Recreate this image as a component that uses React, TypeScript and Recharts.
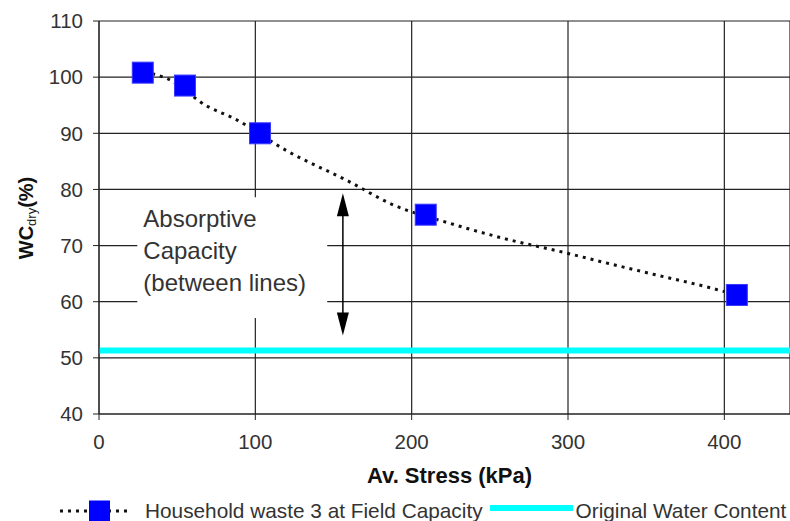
import React from "react";
import {
  CartesianGrid,
  ComposedChart,
  Legend,
  Line,
  ReferenceArea,
  ReferenceLine,
  Scatter,
  XAxis,
  YAxis,
} from "recharts";

// measured points: Household waste 3 at Field Capacity
const stressKpa = [28, 55, 103, 209, 408];
const wcDry = [100.8, 98.5, 90.0, 75.5, 61.2];

// dotted trend line
const trendStress = [29, 43, 70, 86, 120, 160, 187, 224, 260, 297, 326, 356, 392, 400];
const trendWc = [100.9, 99.8, 94.7, 92.7, 86.9, 81.4, 77.4, 74.0, 71.2, 68.8, 66.8, 64.8, 62.4, 61.8];

const originalWaterContent = 51.3;

const xTicks = [0, 100, 200, 300, 400];
const yTicks = [40, 50, 60, 70, 80, 90, 100, 110];

// absorptive capacity annotation
const annotationLines = ["Absorptive", "Capacity", "(between lines)"];
const boxStress = [24.5, 146];
const boxWc = [57.1, 78.6];
const arrowStress = 156;
const arrowWc = [79.3, 54.0];

const legendLabels = ["Household waste 3 at Field Capacity", "Original Water Content"];

const FONT = "'Liberation Sans', Arial, Helvetica, sans-serif";
const TEXT = "#333333";

const measured = stressKpa.map((x, i) => ({ x, y: wcDry[i] }));
const trend = trendStress.map((x, i) => ({ x, y: trendWc[i] }));

const SquareDot = (props: any) => {
  const { cx, cy } = props;
  if (cx == null || cy == null) return null;
  return <rect x={cx - 10.5} y={cy - 10.5} width={21} height={21} fill="#0000FF" stroke="#3a3aff" strokeWidth={1} />;
};

const YTitle = () => (
  <text
    x={26}
    y={218}
    transform="rotate(-90, 26, 218)"
    textAnchor="middle"
    dominantBaseline="central"
    fontFamily={FONT}
    fontWeight="bold"
    fontSize={20}
    fill="#111"
  >
    WC
    <tspan fontSize={13} fontWeight="normal" dy={5}>
      dry
    </tspan>
    <tspan dy={-5}>(%)</tspan>
  </text>
);

const XTitle = (props: any) => {
  const { viewBox } = props;
  if (!viewBox) return null;
  return (
    <text
      x={viewBox.x + viewBox.width / 2 + 5}
      y={viewBox.y + 69}
      textAnchor="middle"
      fontFamily={FONT}
      fontWeight="bold"
      fontSize={22}
      fill="#111"
    >
      Av. Stress (kPa)
    </text>
  );
};

const BoxText = (props: any) => {
  const { viewBox } = props;
  if (!viewBox) return null;
  return (
    <text fontFamily={FONT} fontSize={24} fill={TEXT} dominantBaseline="central">
      {annotationLines.map((line, i) => (
        <tspan key={line} x={viewBox.x + 6} y={viewBox.y + 21 + i * 32}>
          {line}
        </tspan>
      ))}
    </text>
  );
};

const DoubleArrow = (props: any) => {
  const { x1, y1, x2, y2 } = props;
  if (x1 == null) return null;
  const top = Math.min(y1, y2);
  const bottom = Math.max(y1, y2);
  const x = x1;
  return (
    <g>
      <line x1={x} y1={top + 20} x2={x} y2={bottom - 20} stroke="#000" strokeWidth={1.5} />
      <polygon points={`${x},${top} ${x - 6},${top + 23} ${x + 6},${top + 23}`} fill="#000" />
      <polygon points={`${x},${bottom} ${x - 6},${bottom - 23} ${x + 6},${bottom - 23}`} fill="#000" />
    </g>
  );
};

const LegendContent = () => (
  <div
    style={{
      display: "flex",
      alignItems: "center",
      paddingLeft: 60,
      fontFamily: FONT,
      fontSize: 20.8,
      color: TEXT,
      whiteSpace: "nowrap",
      height: 24,
    }}
  >
    <svg width={72} height={24}>
      <line x1={0} y1={12} x2={72} y2={12} stroke="#111" strokeWidth={3} strokeDasharray="3 5" />
      <rect x={29} y={1.5} width={21} height={21} fill="#0000FF" />
    </svg>
    <span style={{ marginLeft: 13 }}>{legendLabels[0]}</span>
    <svg width={83} height={24} style={{ marginLeft: 7 }}>
      <line x1={0} y1={9} x2={83} y2={9} stroke="#00FFFF" strokeWidth={6} />
    </svg>
    <span style={{ marginLeft: 3 }}>{legendLabels[1]}</span>
  </div>
);

export default function App() {
  return (
    <div style={{ position: "absolute", left: 0, top: 0, background: "#fff" }}>
      <ComposedChart width={790} height={521} margin={{ top: 21, right: 0, left: 0, bottom: 0 }}>
        <CartesianGrid stroke="#222" strokeWidth={1.2} />
        <XAxis
          type="number"
          dataKey="x"
          domain={[0, 442]}
          ticks={xTicks}
          allowDataOverflow
          height={107}
          stroke="#222"
          tickSize={6}
          tickMargin={14}
          tick={{ fontSize: 20.5, fill: TEXT, fontFamily: FONT }}
          label={<XTitle />}
        />
        <YAxis
          type="number"
          dataKey="y"
          domain={[40, 110]}
          ticks={yTicks}
          width={99}
          stroke="#222"
          tickSize={6}
          tickMargin={10}
          tick={{ fontSize: 20.5, fill: TEXT, fontFamily: FONT }}
          label={<YTitle />}
        />
        <ReferenceArea
          x1={boxStress[0]}
          x2={boxStress[1]}
          y1={boxWc[0]}
          y2={boxWc[1]}
          fill="#fff"
          fillOpacity={1}
          stroke="none"
          ifOverflow="visible"
          label={<BoxText />}
        />
        <ReferenceLine y={originalWaterContent} stroke="#00FFFF" strokeWidth={6} ifOverflow="visible" />
        <ReferenceLine
          segment={[
            { x: arrowStress, y: arrowWc[0] },
            { x: arrowStress, y: arrowWc[1] },
          ]}
          shape={<DoubleArrow />}
          ifOverflow="visible"
        />
        <Line
          data={trend}
          dataKey="y"
          type="monotone"
          stroke="#111"
          strokeWidth={3}
          strokeDasharray="3 5"
          dot={false}
          activeDot={false}
          isAnimationActive={false}
          legendType="none"
        />
        <Scatter
          data={measured}
          dataKey="y"
          shape={<SquareDot />}
          isAnimationActive={false}
        />
        <Legend
          layout="horizontal"
          verticalAlign="middle"
          align="center"
          content={<LegendContent />}
          wrapperStyle={{ top: 499, left: 0, width: 790, height: 24 }}
        />
      </ComposedChart>
    </div>
  );
}
